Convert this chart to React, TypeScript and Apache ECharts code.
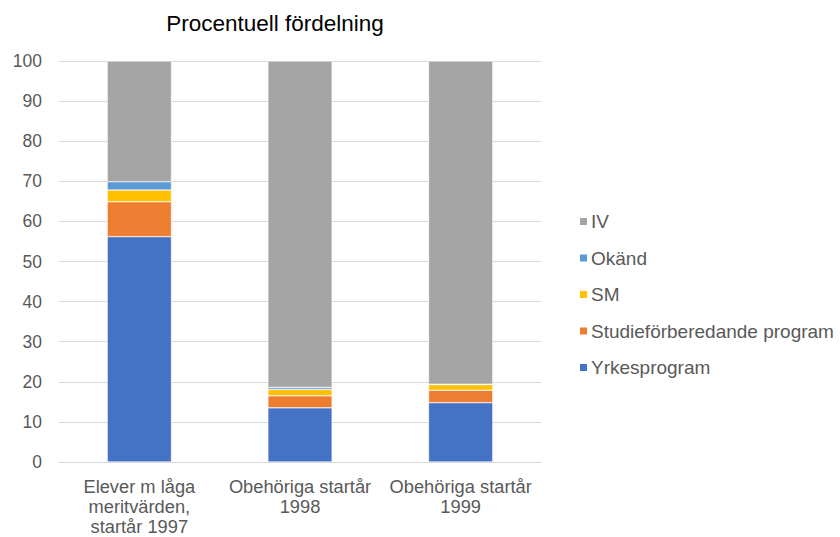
import React, { useEffect, useRef } from "react";
import * as echarts from "echarts";

const categories = [
  "Elever m låga\nmeritvärden,\nstartår 1997",
  "Obehöriga startår\n1998",
  "Obehöriga startår\n1999",
];
const yrkesprogram = [56.2, 13.5, 14.8];
const studieforberedande = [8.7, 3.0, 3.1];
const sm = [2.9, 1.6, 1.4];
const okand = [2.1, 0.5, 0.1];
const iv = [30.1, 81.4, 80.6];
const yTicks = { min: 0, max: 100, interval: 10 };

const seriesDefs = [
  { name: "Yrkesprogram", data: yrkesprogram, color: "#4472C4" },
  { name: "Studieförberedande program", data: studieforberedande, color: "#ED7D31" },
  { name: "SM", data: sm, color: "#FFC000" },
  { name: "Okänd", data: okand, color: "#5B9BD5" },
  { name: "IV", data: iv, color: "#A5A5A5" },
];

export default function App() {
  const ref = useRef<HTMLDivElement>(null);
  useEffect(() => {
    const chart = echarts.init(ref.current!, undefined, { renderer: "svg" });
    chart.setOption({
      animation: false,
      title: {
        text: "Procentuell fördelning",
        left: 270,
        textAlign: "center",
        top: 7,
        textStyle: { fontFamily: "Liberation Sans", fontSize: 22.5, fontWeight: "normal", color: "#000000" },
      },
      grid: { left: 59, right: 299, top: 61, bottom: 75, containLabel: false, outerBoundsMode: "none" },
      legend: {
        orient: "vertical",
        left: 573,
        top: 207,
        itemWidth: 9,
        itemHeight: 9,
        itemGap: 17.5,
        icon: "rect",
        data: ["IV", "Okänd", "SM", "Studieförberedande program", "Yrkesprogram"],
        textStyle: { fontFamily: "Liberation Sans", fontSize: 19, color: "#595959", lineHeight: 19, padding: [0, 0, 0, -2] },
      },
      xAxis: {
        type: "category",
        data: categories,
        axisLine: { lineStyle: { color: "#D9D9D9" } },
        axisTick: { show: false },
        axisLabel: { fontFamily: "Liberation Sans", fontSize: 18.3, color: "#595959", lineHeight: 20, margin: 14, interval: 0 },
      },
      yAxis: {
        type: "value",
        min: yTicks.min,
        max: yTicks.max,
        interval: yTicks.interval,
        axisLine: { show: false },
        axisTick: { show: false },
        splitLine: { lineStyle: { color: "#D9D9D9" } },
        axisLabel: { fontFamily: "Liberation Sans", fontSize: 17.5, color: "#595959", margin: 17 },
      },
      series: seriesDefs.map((s) => ({
        name: s.name,
        type: "bar",
        stack: "total",
        data: s.data,
        barWidth: "40%",
        itemStyle: { color: s.color, borderColor: "#ffffff", borderWidth: 0.5 },
      })),
    });
    return () => chart.dispose();
  }, []);
  return <div ref={ref} style={{ width: 840, height: 537, position: "absolute", left: 0, top: 0 }} />;
}
